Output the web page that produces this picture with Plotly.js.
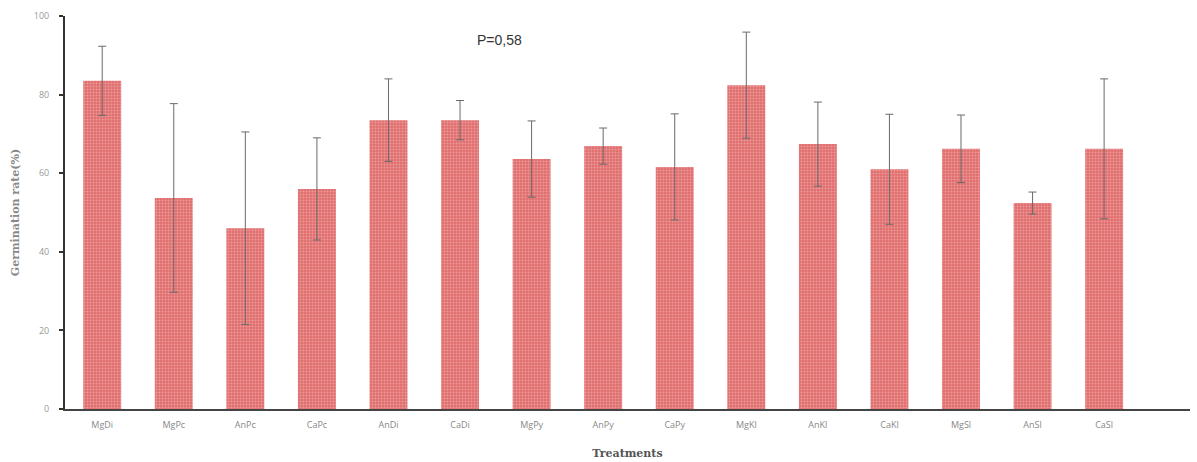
<!DOCTYPE html>
<html><head><meta charset="utf-8">
<script src="https://cdn.plot.ly/plotly-3.0.1.min.js"></script>
<style>html,body{margin:0;padding:0;background:#fff;}</style>
</head><body>
<div id="chart" style="width:1197px;height:462px;"></div>
<script>
const treatments = ["MgDi","MgPc","AnPc","CaPc","AnDi","CaDi","MgPy","AnPy","CaPy","MgKl","AnKl","CaKl","MgSl","AnSl","CaSl"];
const germination = [83.5, 53.7, 46, 56, 73.5, 73.5, 63.6, 66.9, 61.6, 82.4, 67.4, 61, 66.2, 52.4, 66.2];
const errors = [8.8, 24, 24.5, 13, 10.5, 5, 9.7, 4.6, 13.5, 13.5, 10.7, 14, 8.6, 2.8, 17.8];
const annotationText = "P=0,58";

Plotly.newPlot('chart', [{
  type: 'bar',
  x: treatments,
  y: germination,
  width: 0.53,
  marker: {
    color: '#e07272',
    line: {width: 0},
    pattern: {shape: '.', fgcolor: '#ee9a9a', bgcolor: '#df6f6f', size: 3, solidity: 0.35}
  },
  error_y: {type: 'data', array: errors, visible: true, color: '#6a6a6a', thickness: 1, width: 4}
}], {
  width: 1197, height: 462,
  margin: {l: 65, r: 7, t: 16, b: 53},
  paper_bgcolor: '#fff', plot_bgcolor: '#fff',
  showlegend: false,
  xaxis: {
    range: [-0.52, 15.2],
    showline: true, linecolor: '#444', linewidth: 2,
    ticks: '', showgrid: false, zeroline: false,
    ticklabelstandoff: 6,
    tickfont: {family: 'Open Sans, sans-serif', size: 9, color: '#888'},
    title: {text: 'Treatments', font: {family: 'DejaVu Serif, serif', size: 11, color: '#555', weight: 'bold'}, standoff: 20}
  },
  yaxis: {
    range: [0, 100], dtick: 20,
    showline: true, linecolor: '#333', linewidth: 2,
    ticks: 'outside', ticklen: 4, tickwidth: 2, tickcolor: '#333',
    showgrid: false, zeroline: false,
    ticklabelstandoff: 8,
    tickfont: {family: 'Open Sans, sans-serif', size: 9, color: '#999'},
    title: {text: 'Germination rate(%)', font: {family: 'DejaVu Serif, serif', size: 11, color: '#888', weight: 'bold'}, standoff: 12}
  },
  annotations: [{
    text: annotationText, xref: 'paper', yref: 'paper',
    x: 0.386, y: 0.94, xanchor: 'center', yanchor: 'middle', showarrow: false,
    font: {family: 'Liberation Sans, Arial, sans-serif', size: 14, color: '#333'}
  }]
}, {staticPlot: true});
</script>
</body></html>
